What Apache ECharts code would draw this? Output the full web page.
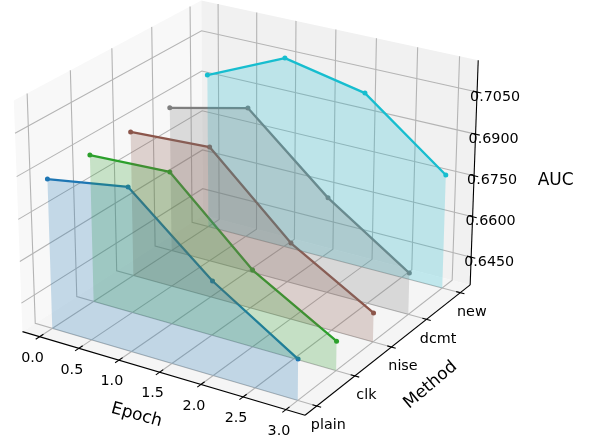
<!DOCTYPE html>
<html><head><meta charset="utf-8"><style>html,body{margin:0;background:#fff}#c{width:589px;height:443px}</style></head><body><div id="c"></div>
<script src="https://cdn.jsdelivr.net/npm/echarts@6/dist/echarts.min.js"></script>
<script>
const epochs=[0,1,2,3];
const methods=['plain','clk','nise','dcmt','new'];
const plainAuc=[0.6881,0.6927,0.6679,0.6491];
const clkAuc=[0.6879,0.6891,0.6621,0.6451];
const niseAuc=[0.6877,0.6893,0.6623,0.6451];
const dcmtAuc=[0.6882,0.6949,0.6695,0.6498];
const newAuc=[0.6923,0.7050,0.6989,0.6763];
const colors=['#1f77b4','#2ca02c','#8c564b','#7f7f7f','#17becf'];
const xTicks=[0,0.5,1,1.5,2,2.5,3];
const xTickLabels=['0.0','0.5','1.0','1.5','2.0','2.5','3.0'];
const yTicks=[0,1,2,3,4];
const zTicks=[0.645,0.66,0.675,0.69,0.705];
const zTickLabels=['0.6450','0.6600','0.6750','0.6900','0.7050'];
const xLim=[-0.22,3.22],yLim=[-0.3,4.3],zLim=[0.6346,0.7162];
const series3d=[plainAuc,clkAuc,niseAuc,dcmtAuc,newAuc];

// mplot3d style perspective camera
const elev=24,azim=-58,half=[0.595,0.6,0.45],dist=10,scale=2770.45,cx=250.2,cy=196.03,W=589,H=443;
const rad=Math.PI/180,ce=Math.cos(elev*rad),se=Math.sin(elev*rad),ca=Math.cos(azim*rad),sa=Math.sin(azim*rad);
const eye=[ce*ca,ce*sa,se],right=[-sa,ca,0],up=[-se*ca,-se*sa,ce];
const dot=(a,b)=>a[0]*b[0]+a[1]*b[1]+a[2]*b[2];
const norm=(v,l,i)=>(2*(v-l[0])/(l[1]-l[0])-1)*half[i];
function project(p){
  const q=[norm(p[0],xLim,0),norm(p[1],yLim,1),norm(p[2],zLim,2)];
  const d=dist-dot(q,eye);
  return [dot(q,right)/d,dot(q,up)/d];
}
const [x0,x1]=xLim,[y0,y1]=yLim,[z0,z1]=zLim;

function shapeSeries(name,items,z){
  return {type:'custom',name,coordinateSystem:'cartesian2d',silent:true,z,clip:false,animation:false,
    data:items.map((_,i)=>[i,0]),
    renderItem(params,api){
      const it=items[params.dataIndex];
      const pix=p=>api.coord(project(p));
      if(it.kind==='poly')return {type:'polygon',shape:{points:it.pts.map(pix)},style:it.style};
      if(it.kind==='line')return {type:'polyline',shape:{points:it.pts.map(pix)},style:Object.assign({fill:null},it.style)};
      const a=pix(it.at);
      return {type:'text',x:a[0]+it.dx,y:a[1]+it.dy,rotation:it.rot||0,
        style:{text:it.text,x:0,y:0,align:'center',verticalAlign:'middle',fill:'#000',
        font:it.size+'px "DejaVu Sans"'}};
    }};
}
const panes=[
 {kind:'poly',pts:[[x0,y0,z0],[x0,y1,z0],[x0,y1,z1],[x0,y0,z1]],style:{fill:'#f8f8f8'}},
 {kind:'poly',pts:[[x0,y1,z0],[x1,y1,z0],[x1,y1,z1],[x0,y1,z1]],style:{fill:'#f1f1f1'}},
 {kind:'poly',pts:[[x0,y0,z0],[x1,y0,z0],[x1,y1,z0],[x0,y1,z0]],style:{fill:'#f5f5f5'}}
];
const gs={stroke:'#b4b4b4',lineWidth:1.1};
const grid=[];
xTicks.forEach(x=>grid.push({kind:'line',pts:[[x,y0,z0],[x,y1,z0],[x,y1,z1]],style:gs}));
yTicks.forEach(y=>grid.push({kind:'line',pts:[[x0,y,z1],[x0,y,z0],[x1,y,z0]],style:gs}));
zTicks.forEach(z=>grid.push({kind:'line',pts:[[x0,y0,z],[x0,y1,z],[x1,y1,z]],style:gs}));
const as={stroke:'#000',lineWidth:1.1};
const axes=[
 {kind:'line',pts:[[x0,y0,z0],[x1,y0,z0]],style:as},
 {kind:'line',pts:[[x1,y0,z0],[x1,y1,z0]],style:as},
 {kind:'line',pts:[[x1,y1,z0],[x1,y1,z1]],style:as}
];
xTicks.forEach(x=>axes.push({kind:'line',pts:[[x,y0+0.09,z0],[x,y0-0.09,z0]],style:as}));
yTicks.forEach(y=>axes.push({kind:'line',pts:[[x1-0.05,y,z0],[x1+0.05,y,z0]],style:as}));
zTicks.forEach(z=>axes.push({kind:'line',pts:[[x1-0.05,y1,z],[x1+0.05,y1,z]],style:as}));
const fills=[];
for(let i=methods.length-1;i>=0;i--){
  const top=epochs.map((e,j)=>[e,i,series3d[i][j]]);
  fills.push({kind:'poly',pts:[[epochs[0],i,z0],...top,[epochs[3],i,z0]],style:{fill:colors[i],opacity:0.24}});
}
const labels=[];
xTicks.forEach((x,i)=>labels.push({kind:'text',at:[x,y0,z0],dx:-7,dy:21.5,text:xTickLabels[i],size:14.3}));
yTicks.forEach((y,i)=>labels.push({kind:'text',at:[x1,y,z0],dx:11.5,dy:19.5,text:methods[i],size:14.3}));
zTicks.forEach((z,i)=>labels.push({kind:'text',at:[x1,y1,z],dx:18,dy:5,text:zTickLabels[i],size:14.3}));
labels.push({kind:'text',at:[(x0+x1)/2,y0,z0],dx:-23,dy:43,text:'Epoch',size:17,rot:-0.27});
labels.push({kind:'text',at:[x1,(y0+y1)/2,z0],dx:39,dy:38,text:'Method',size:17,rot:0.7});
labels.push({kind:'text',at:[x1,y1,(z0+z1)/2],dx:81.5,dy:5.5,text:'AUC',size:17});

const lineSeries=methods.map((m,i)=>({type:'line',name:m,silent:true,z:4,clip:false,animation:false,
  data:epochs.map((e,j)=>project([e,i,series3d[i][j]])),
  symbol:'circle',symbolSize:5,showSymbol:true,
  lineStyle:{color:colors[i],width:2.3},itemStyle:{color:colors[i]},label:{show:false}}));

const chart=echarts.init(document.getElementById('c'),null,{renderer:'canvas'});
chart.setOption({animation:false,backgroundColor:'#fff',tooltip:{show:false},legend:{show:false},
  grid:{left:0,right:0,top:0,bottom:0,containLabel:false},
  xAxis:{type:'value',min:-cx/scale,max:(W-cx)/scale,show:false},
  yAxis:{type:'value',min:(cy-H)/scale,max:cy/scale,show:false},
  series:[shapeSeries('panes',panes,1),shapeSeries('grid',grid,2),shapeSeries('axes',axes,3),...lineSeries,
    shapeSeries('fills',fills,5),shapeSeries('labels',labels,6)]});
</script></body></html>
